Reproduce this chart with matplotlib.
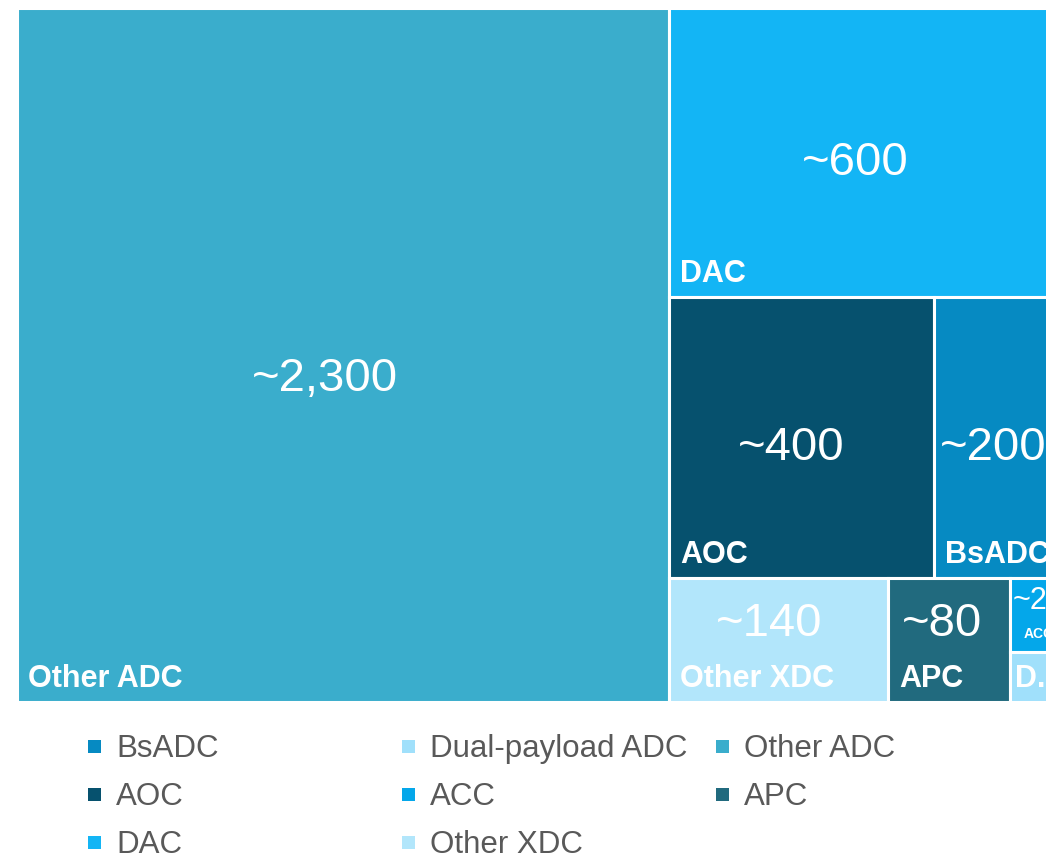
import matplotlib.pyplot as plt
from matplotlib.patches import Rectangle

plt.rcParams['font.family'] = ['Liberation Sans', 'DejaVu Sans']

# treemap data (areas, labels as printed)
names = ['Other ADC', 'DAC', 'AOC', 'BsADC', 'Other XDC', 'APC', 'ACC', 'Dual-payload ADC']
sizes = [2380, 605, 393, 197, 142, 79, 22, 15]
value_labels = ['~2,300', '~600', '~400', '~200', '~140', '~80', '~20', '']
colors = ['#3AADCC', '#13B5F5', '#06516E', '#068AC2', '#B2E6FB', '#216A7E', '#04A7EA', '#A0E0FB']

# legend is filled column by column, 3 rows
legend_order = ['BsADC', 'AOC', 'DAC', 'Dual-payload ADC', 'ACC', 'Other XDC', 'Other ADC', 'APC']

W, H = 1046, 855           # figure in pixels
TM_W, TM_H = 1051, 693     # treemap runs off the right edge of the picture
PT = 100 / 72.0            # pixels per point


def worst(row, side):
    s = sum(row)
    return max(max(side * side * r / (s * s), s * s / (side * side * r)) for r in row)


def squarify(vals, x, y, dx, dy):
    rects = []
    vals = list(vals)
    while vals:
        side = min(dx, dy)
        row = [vals[0]]
        i = 1
        while i < len(vals) and worst(row + [vals[i]], side) <= worst(row, side):
            row.append(vals[i])
            i += 1
        vals = vals[i:]
        s = sum(row)
        if dx >= dy:
            w = s / dy
            yy = y
            for r in row:
                rects.append((x, yy, w, r / w))
                yy += r / w
            x += w
            dx -= w
        else:
            h = s / dx
            xx = x
            for r in row:
                rects.append((xx, y, r / h, h))
                xx += r / h
            y += h
            dy -= h
    return rects


fig = plt.figure(figsize=(W / 100, H / 100), dpi=100)
ax = fig.add_axes([16.5 / W, (H - 701.5) / H, TM_W / W, TM_H / H])
ax.set_xlim(0, TM_W)
ax.set_ylim(TM_H, 0)
ax.axis('off')

scale = TM_W * TM_H / sum(sizes)
rects = squarify([s * scale for s in sizes], 0, 0, TM_W, TM_H)

for (x, y, w, h), name, val, col in zip(rects, names, value_labels, colors):
    ax.add_patch(Rectangle((x, y), w, h, facecolor=col, edgecolor='white', linewidth=2.2))
    cx = x + w / 2
    if h < 60:
        # too small for the value, name gets shortened
        fs = 22
        label = name
        if len(name) * 0.6 * fs * PT > w - 8:
            label = name[0] + '.'
        ax.text(x + 5, y + h - 15, label, color='white', fontsize=fs, fontweight='bold',
                ha='left', va='baseline', clip_on=False)
    elif h < 100:
        ax.text(cx, y + 0.31 * h, val, color='white', fontsize=22, ha='center', va='center')
        ax.text(cx, y + 0.76 * h, name, color='white', fontsize=10, fontweight='bold',
                ha='center', va='center')
    else:
        vy = y + h / 2 + 0.035 * h if h > 200 else y + 0.37 * h
        ax.text(cx - 0.02 * w - 5, vy, val, color='white', fontsize=34, ha='center', va='center')
        ax.text(x + 11, y + h - 15, name, color='white', fontsize=22, fontweight='bold',
                ha='left', va='baseline')

# legend drawn in pixel space
lax = fig.add_axes([0, 0, 1, 1])
lax.set_xlim(0, W)
lax.set_ylim(H, 0)
lax.axis('off')
for i, name in enumerate(legend_order):
    col_x = 88 + 314 * (i // 3)
    row_y = 747 + 48 * (i % 3)
    c = colors[names.index(name)]
    lax.add_patch(Rectangle((col_x, row_y - 7), 13, 13, facecolor=c, edgecolor='none'))
    lax.text(col_x + 28, row_y + 2, name, color='#595959', fontsize=22.5, ha='left', va='center')

fig.savefig('out.png', dpi=100)
